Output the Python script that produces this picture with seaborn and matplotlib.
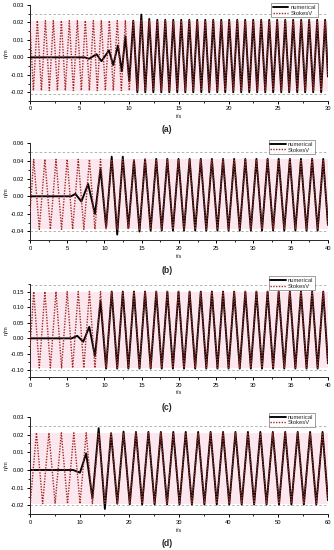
import matplotlib
matplotlib.use("Agg")
import matplotlib.pyplot as plt
import seaborn as sns
from matplotlib.ticker import MultipleLocator, FormatStrFormatter

# ==========================================
# data (times of crests / troughs, levels)
# ==========================================
# (a) 0-30 s, T ~ 0.8 s ; first extreme after t=0 is a trough
stokes_a_t = [0, 0.34, 0.74, 1.15, 1.55, 1.95, 2.35, 2.76, 3.16, 3.56, 3.96, 4.37, 4.77,
              5.17, 5.57, 5.98, 6.38, 6.78, 7.18, 7.59, 7.99, 8.39, 8.79, 9.20, 9.60, 10.00,
              10.40, 10.81, 11.21, 11.61, 12.01, 12.42, 12.82, 13.22, 13.62, 14.03, 14.43,
              14.83, 15.23, 15.64, 16.04, 16.44, 16.84, 17.25, 17.65, 18.05, 18.45, 18.86,
              19.26, 19.66, 20.06, 20.47, 20.87, 21.27, 21.67, 22.08, 22.48, 22.88, 23.28,
              23.69, 24.09, 24.49, 24.89, 25.30, 25.70, 26.10, 26.50, 26.91, 27.31, 27.71,
              28.11, 28.52, 28.92, 29.32, 29.72, 30.0]
stokes_a_levels = [0.021, -0.019]          # crest, trough
stokes_a_ends = [0.0185, -0.011]           # value at t=0 and at t end
num_a_t = [0, 5.5, 5.95, 6.7, 7.2, 7.95, 8.38, 8.85, 9.25, 9.60, 10.00, 10.40, 10.81,
           11.21, 11.61, 12.01]
num_a_eta = [0, 0, -0.0008, 0.0018, -0.0022, 0.004, -0.0044, 0.0068, -0.008, 0.012,
             -0.0137, 0.021, -0.020, 0.0245, -0.020, 0.022]
num_a_levels = [0.0215, -0.020]

# (b) and (c) 0-40 s, T ~ 1.5 s ; first extreme is a crest
stokes_bc_t = [0, 0.50, 1.25, 2.00, 2.74, 3.49, 4.24, 4.99, 5.73, 6.48, 7.23, 7.98, 8.72,
               9.47, 10.22, 10.97, 11.71, 12.46, 13.21, 13.96, 14.70, 15.45, 16.20, 16.95,
               17.69, 18.44, 19.19, 19.94, 20.68, 21.43, 22.18, 22.93, 23.67, 24.42, 25.17,
               25.92, 26.66, 27.41, 28.16, 28.91, 29.65, 30.40, 31.15, 31.90, 32.64, 33.39,
               34.14, 34.89, 35.63, 36.38, 37.13, 37.88, 38.62, 39.37, 40.0]
stokes_b_levels = [0.042, -0.0375]
stokes_b_ends = [-0.018, -0.0326]
num_b_t = [0, 5.5, 6.1, 6.9, 7.8, 8.72, 9.47, 10.22, 10.97, 11.71, 12.46, 13.21, 13.96,
           14.70, 15.45]
num_b_eta = [0, 0, 0.0027, -0.006, 0.014, -0.020, 0.031, -0.035, 0.045, -0.0435, 0.045,
             -0.036, 0.041, -0.040, 0.042]
num_b_levels = [0.0425, -0.039]

stokes_c_levels = [0.15, -0.095]
stokes_c_ends = [-0.034, -0.080]
num_c_t = [0, 5.6, 6.35, 7.15, 7.96, 8.72, 9.47, 10.22, 10.97]
num_c_eta = [0, 0, 0.008, -0.011, 0.037, -0.057, 0.12, -0.097, 0.15]
num_c_levels = [0.15, -0.097]

# (d) 0-60 s, T ~ 2.5 s ; first extreme is a trough
stokes_d_t = [0, 0.05, 1.30, 2.55, 3.81, 5.06, 6.31, 7.56, 8.82, 10.07, 11.32, 12.57, 13.83,
              15.08, 16.33, 17.58, 18.84, 20.09, 21.34, 22.59, 23.85, 25.10, 26.35, 27.60,
              28.86, 30.11, 31.36, 32.61, 33.87, 35.12, 36.37, 37.62, 38.88, 40.13, 41.38,
              42.63, 43.89, 45.14, 46.39, 47.64, 48.90, 50.15, 51.40, 52.65, 53.91, 55.16,
              56.41, 57.66, 58.92, 60.0]
stokes_d_levels = [0.021, -0.019]
stokes_d_ends = [-0.0188, -0.017]
num_d_t = [0, 8.7, 10.07, 11.32, 12.57, 13.83, 15.08, 16.33, 17.58, 18.84, 20.09]
num_d_eta = [0, 0, -0.0015, 0.0094, -0.016, 0.0236, -0.022, 0.0208, -0.019, 0.0217, -0.0194]
num_d_levels = [0.0215, -0.0195]

# grey dashed reference lines in each panel
ref_a = [0.0248, -0.021]
ref_b = [0.05, -0.04]
ref_c = [0.17, -0.10]
ref_d = [0.025, -0.02]


def stokes_series(times, first_crest, levels, ends):
    vals, kinds = [ends[0]], ["end"]
    is_crest = first_crest
    for _ in times[1:-1]:
        vals.append(levels[0] if is_crest else levels[1])
        kinds.append("c" if is_crest else "t")
        is_crest = not is_crest
    vals.append(ends[1])
    kinds.append("end")
    return vals, kinds


def numerical_series(ramp_t, ramp_eta, s_t, s_eta, s_kinds, levels):
    t, eta = list(ramp_t), list(ramp_eta)
    for ti, ei, k in zip(s_t, s_eta, s_kinds):
        if ti <= ramp_t[-1]:
            continue
        t.append(ti)
        eta.append(levels[0] if k == "c" else levels[1] if k == "t" else ei)
    return t, eta


# ==========================================
# style
# ==========================================
sns.set_style("ticks")
plt.rcParams['font.family'] = ['Liberation Sans', 'DejaVu Sans']
plt.rcParams['axes.unicode_minus'] = False
plt.rcParams['axes.linewidth'] = 0.7
for ax_ in ('xtick', 'ytick'):
    plt.rcParams[f'{ax_}.major.width'] = 0.7
    plt.rcParams[f'{ax_}.minor.width'] = 0.6
    plt.rcParams[f'{ax_}.major.size'] = 2.4
    plt.rcParams[f'{ax_}.minor.size'] = 1.3
    plt.rcParams[f'{ax_}.direction'] = 'out'
    plt.rcParams[f'{ax_}.color'] = 'black'

FS = 4.2
STOKES_COLOR = '#9e2b26'

panels = [
    # tag, stokes t, first crest?, levels, ends, num t, num eta, num levels, ref, tmax, xstep, ylim, ystep, fig box, legend anchor, label y
    ('(a)', stokes_a_t, False, stokes_a_levels, stokes_a_ends, num_a_t, num_a_eta, num_a_levels,
     ref_a, 30, 5, (-0.025, 0.03), 0.01, [0.0898, 0.8164, 0.892, 0.1745], (0.966, 1.02), 130),
    ('(b)', stokes_bc_t, True, stokes_b_levels, stokes_b_ends, num_b_t, num_b_eta, num_b_levels,
     ref_b, 40, 5, (-0.05, 0.06), 0.02, [0.0898, 0.5631, 0.892, 0.176], (0.957, 1.036), 270),
    ('(c)', stokes_bc_t, True, stokes_c_levels, stokes_c_ends, num_c_t, num_c_eta, num_c_levels,
     ref_c, 40, 5, (-0.125, 0.175), 0.05, [0.0898, 0.314, 0.892, 0.170], (0.957, 1.082), 408),
    ('(d)', stokes_d_t, False, stokes_d_levels, stokes_d_ends, num_d_t, num_d_eta, num_d_levels,
     ref_d, 60, 10, (-0.025, 0.03), 0.01, [0.0898, 0.065, 0.892, 0.177], (0.957, 1.043), 543),
]

fig = plt.figure(figsize=(3.34, 5.5), dpi=100)

for (tag, s_t, first_crest, s_lev, s_ends, n_t, n_eta, n_lev,
     ref, tmax, xstep, ylim, ystep, box, leg_anchor, label_y) in panels:
    ax = fig.add_axes(box)
    s_eta, s_kinds = stokes_series(s_t, first_crest, s_lev, s_ends)
    nt, neta = numerical_series(n_t, n_eta, s_t, s_eta, s_kinds, n_lev)

    ax.axhspan(s_lev[1], s_lev[0], color='#fce7ee', lw=0, zorder=0)
    for r in ref:
        ax.axhline(r, color='#a8a8a8', lw=0.6, ls=(0, (3, 2.5)), zorder=1)

    sns.lineplot(x=nt, y=neta, ax=ax, color='black', lw=1.35, sort=False,
                 estimator=None, label='numerical', zorder=3,
                 solid_joinstyle='round', solid_capstyle='round')
    sns.lineplot(x=s_t, y=s_eta, ax=ax, color=STOKES_COLOR, lw=1.0, sort=False,
                 estimator=None, label='StokesV', linestyle=(0, (1, 1)), zorder=4,
                 dash_joinstyle='round')

    ax.set_xlim(0, tmax)
    ax.set_ylim(*ylim)
    ax.xaxis.set_major_locator(MultipleLocator(xstep))
    ax.xaxis.set_minor_locator(MultipleLocator(xstep / 2))
    ax.yaxis.set_major_locator(MultipleLocator(ystep))
    ax.yaxis.set_minor_locator(MultipleLocator(ystep / 2))
    ax.yaxis.set_major_formatter(FormatStrFormatter('%.2f'))
    ax.tick_params(labelsize=FS, pad=1.5)
    sns.despine(ax=ax)

    ax.set_xlabel('t/s', fontsize=FS)
    ax.set_ylabel('η/m', fontsize=FS)
    ax.xaxis.set_label_coords(0.5, -0.14)
    ax.yaxis.set_label_coords(-0.072, 0.5)

    leg = ax.legend(loc='upper right', bbox_to_anchor=leg_anchor, borderaxespad=0,
                    fontsize=FS, frameon=True, fancybox=False, handlelength=2.6,
                    handletextpad=0.4, borderpad=0.3, labelspacing=0.1)
    leg.get_frame().set_edgecolor('#555555')
    leg.get_frame().set_linewidth(0.5)

    fig.text(0.5, 1 - label_y / 550, tag, ha='center', va='center',
             fontsize=6.2, fontweight='bold')

plt.savefig('out.png', dpi=100)
